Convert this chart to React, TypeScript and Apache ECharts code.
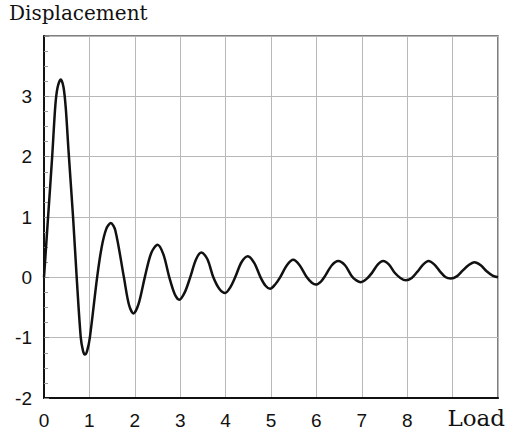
import React, { useEffect, useRef } from "react";
import * as echarts from "echarts";

const loadX: number[] = [
  0, 0.09, 0.18, 0.25, 0.3, 0.37, 0.43, 0.48, 0.54, 0.64, 0.72, 0.81, 0.86, 0.9, 0.95, 1.01,
  1.17, 1.27, 1.37, 1.47, 1.57, 1.76, 1.87, 1.97, 2.08, 2.22, 2.36, 2.5, 2.63, 2.76, 2.88,
  2.98, 3.1, 3.22, 3.35, 3.47, 3.6, 3.73, 3.86, 3.99, 4.1, 4.21, 4.35, 4.49, 4.63, 4.77,
  4.88, 4.98, 5.1, 5.2, 5.35, 5.49, 5.63, 5.79, 5.9, 5.99, 6.1, 6.19, 6.34, 6.48, 6.63,
  6.78, 6.88, 6.98, 7.1, 7.22, 7.35, 7.47, 7.6, 7.72, 7.85, 7.97, 8.1, 8.22, 8.35, 8.47,
  8.6, 8.72, 8.85, 8.96, 9.1, 9.22, 9.35, 9.48, 9.62, 9.75, 9.88, 10.0,
];

const displacement: number[] = [
  0, 1.0, 2.0, 2.85, 3.15, 3.28, 3.15, 2.8, 2.1, 1.0, 0, -1.0, -1.22, -1.28, -1.22, -1.0,
  0, 0.5, 0.8, 0.9, 0.78, 0, -0.45, -0.6, -0.45, 0, 0.4, 0.54, 0.38, 0, -0.28,
  -0.37, -0.25, 0, 0.3, 0.41, 0.3, 0, -0.19, -0.26, -0.17, 0, 0.25, 0.35, 0.24, 0,
  -0.14, -0.19, -0.11, 0, 0.2, 0.29, 0.2, 0, -0.09, -0.12, -0.07, 0.02, 0.2, 0.27, 0.2,
  0.02, -0.05, -0.08, -0.03, 0.07, 0.21, 0.27, 0.21, 0.08, -0.01, -0.05, -0.01, 0.09, 0.21, 0.27,
  0.21, 0.1, 0.0, -0.02, 0.02, 0.11, 0.2, 0.25, 0.2, 0.1, 0.03, 0.0,
];

const xTickLabels: string[] = ["0", "1", "2", "3", "4", "5", "6", "7", "8", "", ""];
const yTickLabels: string[] = ["-2", "-1", "0", "1", "2", "3", ""];

const yTitle = "Displacement";
const xTitle = "Load";

export default function App() {
  const ref = useRef<HTMLDivElement>(null);

  useEffect(() => {
    if (!ref.current) return;
    const chart = echarts.init(ref.current, undefined, { renderer: "svg" });
    const data = loadX.map((x, i) => [x, displacement[i]]);
    chart.setOption({
      animation: false,
      backgroundColor: "#ffffff",
      grid: {
        left: 44,
        right: 10,
        top: 36,
        bottom: 45,
        show: true,
        borderColor: "#555",
        borderWidth: 1.5,
        backgroundColor: "transparent",
      },
      xAxis: {
        type: "value",
        min: 0,
        max: 10,
        interval: 1,
        axisLine: { show: true, onZero: false, lineStyle: { color: "#111", width: 2 } },
        axisTick: { show: false },
        axisLabel: {
          margin: 13,
          fontFamily: "Liberation Sans, Arial, sans-serif",
          fontSize: 19,
          color: "#111",
          formatter: (v: number) => xTickLabels[Math.round(v)] ?? "",
        },
        splitLine: { show: true, lineStyle: { color: "#b8b8b8", width: 1 } },
      },
      yAxis: {
        type: "value",
        min: -2,
        max: 4,
        interval: 1,
        axisLine: { show: true, onZero: false, lineStyle: { color: "#111", width: 2 } },
        axisTick: { show: true, inside: true, length: 5, lineStyle: { color: "#888" } },
        minorTick: { show: true, splitNumber: 4, length: 4, lineStyle: { color: "#999" } },
        axisLabel: {
          margin: 12,
          fontFamily: "Liberation Sans, Arial, sans-serif",
          fontSize: 19,
          color: "#111",
          formatter: (v: number) => yTickLabels[Math.round(v) + 2] ?? "",
        },
        splitLine: { show: true, lineStyle: { color: "#b8b8b8", width: 1 } },
      },
      graphic: [
        {
          type: "text",
          left: 9,
          top: 3,
          style: {
            text: yTitle,
            fontFamily: "DejaVu Serif, serif",
            fontSize: 20,
            fill: "#111",
          },
        },
        {
          type: "text",
          right: 3,
          top: 406,
          style: {
            text: xTitle,
            fontFamily: "DejaVu Serif, serif",
            fontSize: 23,
            fill: "#111",
          },
        },
      ],
      series: [
        {
          type: "line",
          data,
          showSymbol: false,
          smooth: 0.3,
          lineStyle: { color: "#111", width: 2.5 },
        },
      ],
    });
    return () => chart.dispose();
  }, []);

  return (
    <div
      ref={ref}
      style={{ position: "fixed", left: 0, top: 0, width: 508, height: 443 }}
    />
  );
}
